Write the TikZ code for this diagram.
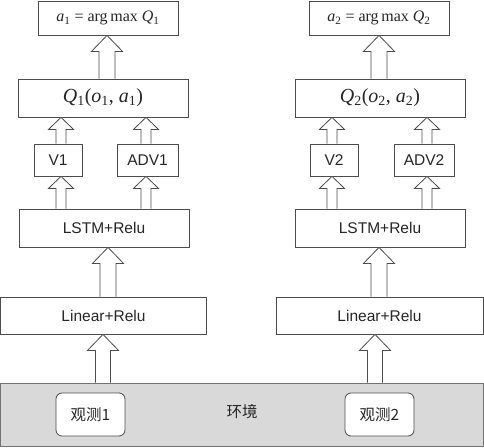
\documentclass[tikz,border=0pt]{standalone}
\usepackage{fontspec}
\setmainfont{Liberation Sans}
\newfontfamily\tmsfont{Liberation Serif}
\newfontfamily\cjkfont{Noto Sans CJK SC}
\usetikzlibrary{calc}
\newcommand\isub[2]{\textit{#1}\textsubscript{#2}}
\tikzset{
  box/.style={draw=black!70, line width=0.8pt, fill=white, inner sep=0pt, text=black!85,
    font=\fontsize{15.5}{16}\selectfont},
  mathbox/.style={box, font=\tmsfont\fontsize{16}{16}\selectfont},
  qbox/.style={box, font=\tmsfont\fontsize{20}{20}\selectfont},
  envbox/.style={draw=black!55, line width=0.8pt, fill=black!15, inner sep=0pt},
  obsbox/.style={draw=black!70, line width=0.8pt, fill=white, rounded corners=6pt, inner sep=0pt,
    text=black!85, font=\cjkfont\fontsize{15.5}{16}\selectfont},
  barrow/.style={draw=black!70, line width=0.8pt, fill=white, line join=miter},
}
% #1 x, #2 source node, #3 target node, #4 shaft half, #5 head half, #6 head length
\newcommand\blockarrow[6]{%
  \draw[barrow] let \p1=(#1,0 |- #2.north), \p2=(#1,0 |- #3.south) in
    (\x1-#4pt,\y1) -- (\x1-#4pt,\y2-#6pt) -- (\x1-#5pt,\y2-#6pt) -- (\x1,\y2)
    -- (\x1+#5pt,\y2-#6pt) -- (\x1+#4pt,\y2-#6pt) -- (\x1+#4pt,\y1);}
\newcommand\bigarrow[3]{\blockarrow{#1}{#2}{#3}{8}{15.5}{16}}
\newcommand\smallarrow[3]{\blockarrow{#1}{#2}{#3}{5}{12.5}{12}}
\begin{document}
\begin{tikzpicture}[x=1pt,y=-1pt]
\useasboundingbox (0,0) rectangle (484,447);
% environment
\node[envbox, minimum width=483, minimum height=63] (env) at (242,414.5) {};
\node[font=\cjkfont\fontsize{15.5}{16}\selectfont, text=black!85] (envlabel) at (242,412) {环境};
\node[obsbox, minimum width=69, minimum height=43] (obs1) at (90.5,414.5) {观测1};
\node[obsbox, minimum width=69, minimum height=43] (obs2) at (379.5,414.5) {观测2};
% left column
\node[mathbox, minimum width=140, minimum height=34] (a1) at (108,18) {\isub{a}{1} = arg\,max \isub{Q}{1}};
\node[qbox, minimum width=170, minimum height=38] (q1) at (103,98) {\isub{Q}{1}(\isub{o}{1}, \isub{a}{1})};
\node[box, minimum width=48, minimum height=32] (v1) at (58,160) {V1};
\node[box, minimum width=61, minimum height=32] (adv1) at (147.5,160) {ADV1};
\node[box, minimum width=170, minimum height=38] (lstm1) at (104,228) {LSTM+Relu};
\node[box, minimum width=206, minimum height=37] (lin1) at (103.5,315.5) {Linear+Relu};
% right column
\node[mathbox, minimum width=140, minimum height=34] (a2) at (379,18) {\isub{a}{2} = arg\,max \isub{Q}{2}};
\node[qbox, minimum width=170, minimum height=38] (q2) at (380,98) {\isub{Q}{2}(\isub{o}{2}, \isub{a}{2})};
\node[box, minimum width=48, minimum height=32] (v2) at (334,160) {V2};
\node[box, minimum width=60, minimum height=32] (adv2) at (424,160) {ADV2};
\node[box, minimum width=170, minimum height=38] (lstm2) at (380,228) {LSTM+Relu};
\node[box, minimum width=207, minimum height=37] (lin2) at (379.5,315.5) {Linear+Relu};
% arrows left
\bigarrow{107}{q1}{a1}
\smallarrow{61}{v1}{q1}
\smallarrow{146}{adv1}{q1}
\smallarrow{61}{lstm1}{v1}
\smallarrow{146}{lstm1}{adv1}
\bigarrow{108}{lin1}{lstm1}
\blockarrow{103}{env}{lin1}{7.5}{15.5}{16}
% arrows right
\bigarrow{379}{q2}{a2}
\smallarrow{332}{v2}{q2}
\smallarrow{427}{adv2}{q2}
\smallarrow{332}{lstm2}{v2}
\smallarrow{427}{lstm2}{adv2}
\bigarrow{379}{lin2}{lstm2}
\blockarrow{375}{env}{lin2}{7.5}{15.5}{16}
\end{tikzpicture}
\end{document}
